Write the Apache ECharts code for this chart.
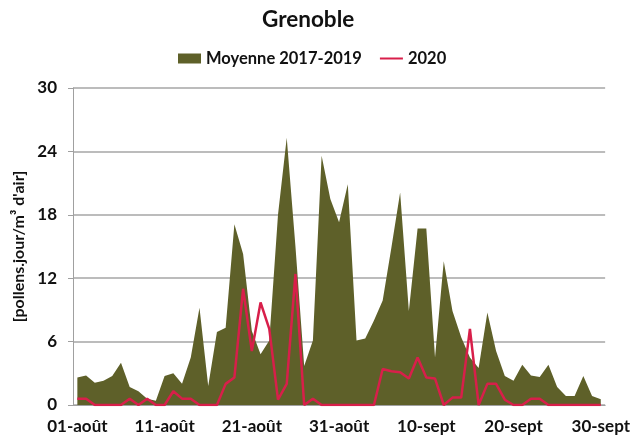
<!DOCTYPE html>
<html><head><meta charset="utf-8">
<script src="https://cdn.jsdelivr.net/npm/echarts@6/dist/echarts.min.js"></script>
<style>html,body{margin:0;padding:0;background:#fff}#c{width:633px;height:442px}</style>
</head><body><div id="c"></div>
<script>
const months = ['août','sept'];
const categories = [];
for (let d = 1; d <= 31; d++) categories.push(String(d).padStart(2,'0') + '-' + months[0]);
for (let d = 1; d <= 30; d++) categories.push(String(d).padStart(2,'0') + '-' + months[1]);
const moyenne = [2.6,2.8,2.1,2.3,2.75,4.0,1.7,1.3,0.6,0.4,
  2.75,3.0,2.0,4.5,9.2,1.8,6.9,7.3,17.1,14.3,
  7.0,4.8,6.1,18.0,25.3,15.0,3.7,6.1,23.6,19.5,
  17.3,20.9,6.1,6.3,8.0,9.9,14.9,20.1,8.9,16.7,
  16.7,4.5,13.6,8.9,6.4,4.5,3.5,8.75,5.1,2.75,
  2.3,3.8,2.8,2.65,3.8,1.7,0.85,0.85,2.75,0.85,0.55];
const an2020 = [0.6,0.6,0,0,0,0,0.6,0,0.6,0,
  0,1.3,0.6,0.6,0,0,0,2.0,2.6,11.0,
  5.1,9.7,7.2,0.5,2.0,12.4,0,0.6,0,0,
  0,0,0,0,0,3.4,3.2,3.1,2.5,4.5,
  2.6,2.5,0,0.7,0.7,7.2,0,2.0,2.0,0.5,
  0,0,0.6,0.6,0,0,0,0,0,0,0];
const yTicks = [0,6,12,18,24,30];
const font = 'Lato, "Open Sans", "Liberation Sans", sans-serif';
const chart = echarts.init(document.getElementById('c'), null, {renderer:'canvas'});
chart.setOption({
  animation:false,
  title:{text:'Grenoble', left:257, top:3, textStyle:{fontFamily:font, fontWeight:'bold', fontSize:22.5, color:'#111'}},
  legend:{top:45, left:173, itemGap:17, itemWidth:23, itemHeight:10,
    textStyle:{fontFamily:font, fontWeight:'bold', fontSize:16.5, color:'#111'},
    data:[{name:'Moyenne 2017-2019', icon:'rect'},
          {name:'2020', itemStyle:{color:'rgba(0,0,0,0)', borderWidth:0}}]},
  grid:{left:73, right:26, top:88, bottom:37},
  xAxis:{type:'category', data:categories, boundaryGap:true,
    axisLine:{lineStyle:{color:'#a0a0a0', width:1}},
    axisTick:{interval:9, length:5, lineStyle:{color:'#a0a0a0'}},
    axisLabel:{interval:9, margin:13, fontFamily:font, fontWeight:'bold', fontSize:17, color:'#111'}},
  yAxis:{type:'value', min:0, max:30, interval:6,
    name:'[pollens.jour/m³ d\'air]', nameLocation:'middle', nameGap:43,
    nameTextStyle:{fontFamily:font, fontWeight:'bold', fontSize:16, color:'#111'},
    axisLine:{show:true, lineStyle:{color:'#a0a0a0'}},
    axisTick:{show:true, length:5, lineStyle:{color:'#a0a0a0'}},
    axisLabel:{margin:16, fontFamily:font, fontWeight:'bold', fontSize:17, color:'#111',
      formatter:v => yTicks.includes(v) ? String(v) : ''},
    splitLine:{lineStyle:{color:'#a6a6a6', width:1.5}}},
  series:[
    {name:'Moyenne 2017-2019', type:'line', data:moyenne, symbol:'none',
      itemStyle:{color:'#5e6029'}, lineStyle:{width:0, color:'#5e6029'},
      areaStyle:{color:'#5e6029', opacity:1}},
    {name:'2020', type:'line', data:an2020, symbol:'none',
      itemStyle:{color:'#d81f4a'}, lineStyle:{width:2.5, color:'#d81f4a'}}
  ]
});
</script></body></html>
